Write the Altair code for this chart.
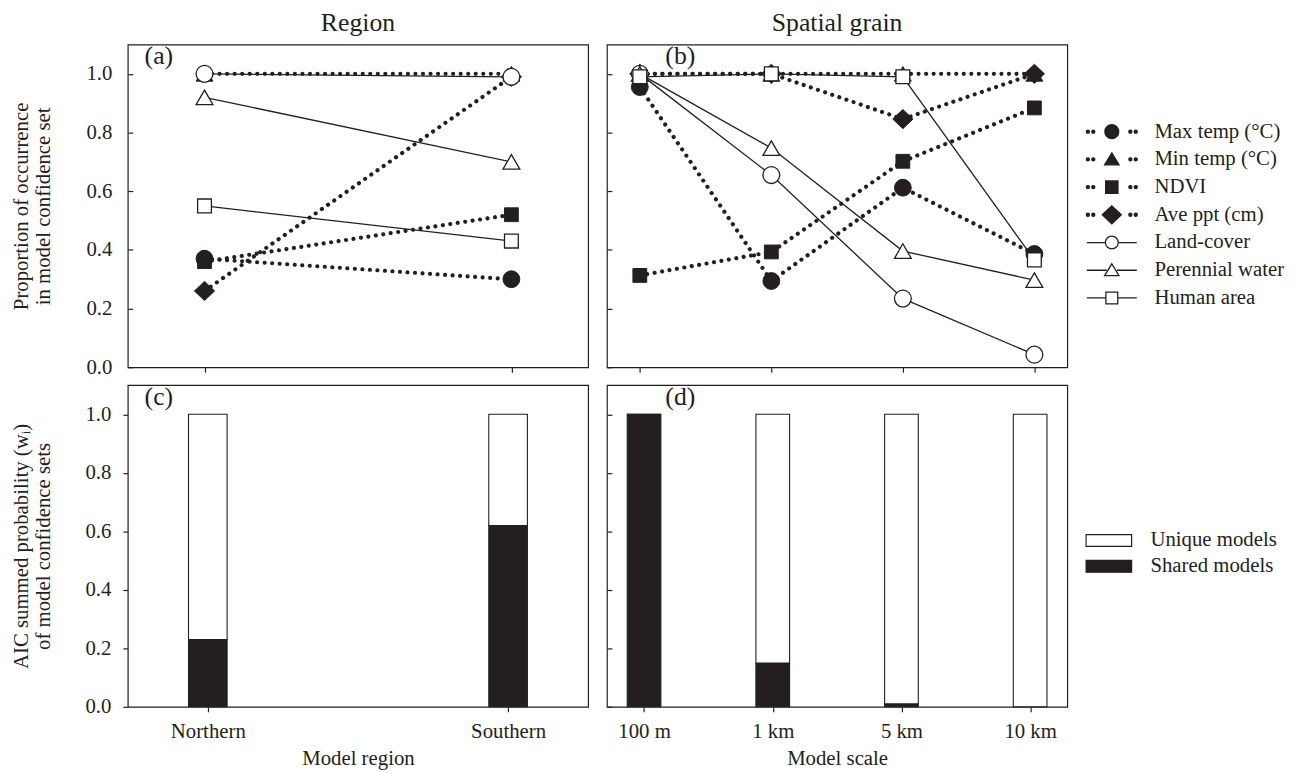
import json
import altair as alt
import pandas as pd

FONT = "Liberation Serif"
INK = "#231f20"

# ---------------- data ----------------
regions = ["Northern", "Southern"]
grains = ["100 m", "1 km", "5 km", "10 km"]
series_names = ["Max temp (°C)", "Min temp (°C)", "NDVI", "Ave ppt (cm)",
                "Land-cover", "Perennial water", "Human area"]
series_style = ["dotted", "dotted", "dotted", "dotted", "solid", "solid", "solid"]

max_temp_region = [0.37, 0.30]
min_temp_region = [1.00, 1.00]
ndvi_region = [0.36, 0.52]
ave_ppt_region = [0.26, 0.99]
land_cover_region = [1.00, 0.99]
perennial_water_region = [0.92, 0.70]
human_area_region = [0.55, 0.43]

max_temp_grain = [0.955, 0.294, 0.612, 0.386]
min_temp_grain = [1.00, 1.00, 1.00, 1.00]
ndvi_grain = [0.313, 0.393, 0.702, 0.884]
ave_ppt_grain = [1.00, 1.00, 0.846, 1.00]
land_cover_grain = [1.00, 0.655, 0.234, 0.043]
perennial_water_grain = [1.00, 0.747, 0.396, 0.297]
human_area_grain = [0.99, 1.00, 0.99, 0.366]

bar_types = ["Unique models", "Shared models"]
shared_region = [0.23, 0.62]
unique_region = [0.77, 0.38]
shared_grain = [1.00, 0.15, 0.01, 0.00]
unique_grain = [0.00, 0.85, 0.99, 1.00]

panel_letters = ["(a)", "(b)", "(c)", "(d)"]
y_ticks = [0.0, 0.2, 0.4, 0.6, 0.8, 1.0]

# ---------------- shapes ----------------
def circ(cx, r):
    return f"M{cx + r},0A{r},{r},0,1,1,{cx - r},0A{r},{r},0,1,1,{cx + r},0Z"

plot_shapes = [
    "circle",
    "triangle-up",
    "M-0.82,-0.82L0.82,-0.82L0.82,0.82L-0.82,0.82Z",
    "M-1.2,0L0,-1.14L1.2,0L0,1.14Z",
    "circle",
    "triangle-up",
    "M-0.82,-0.82L0.82,-0.82L0.82,0.82L-0.82,0.82Z",
]

dots = "".join(circ(c, 0.06) for c in (-0.93, -0.72, 0.72, 0.93))
legend_shapes = [
    dots + circ(0, 0.27),
    dots + "M0,-0.25L0.28,0.21L-0.28,0.21Z",
    dots + "M-0.24,-0.24L0.24,-0.24L0.24,0.24L-0.24,0.24Z",
    dots + "M-0.37,0L0,-0.35L0.37,0L0,0.35Z",
    "M-0.97,0L-0.25,0M0.25,0L0.97,0" + circ(0, 0.25),
    "M-0.97,0L-0.2,0M0.2,0L0.97,0M0,-0.25L0.28,0.21L-0.28,0.21Z",
    "M-0.97,0L-0.23,0M0.23,0L0.97,0M-0.23,-0.23L0.23,-0.23L0.23,0.23L-0.23,0.23Z",
]
legend_fills = [INK, INK, INK, INK, "white", "white", "white"]
legend_strokes = [INK] * 7


def line_table(cats, columns):
    rows = []
    for s, st, vals in zip(series_names, series_style, columns):
        for i, (c, v) in enumerate(zip(cats, vals)):
            rows.append({"i": i, "cat": c, "series": s, "style": st, "value": v})
    return pd.DataFrame(rows)


def bar_table(cats, shared, unique):
    rows = []
    for i, c in enumerate(cats):
        rows.append({"i": i, "cat": c, "type": "Shared models", "start": 0.0,
                     "end": shared[i]})
        rows.append({"i": i, "cat": c, "type": "Unique models", "start": shared[i],
                     "end": shared[i] + unique[i]})
    return pd.DataFrame(rows)


def x_enc(cats, bottom, title=None):
    n = len(cats)
    if bottom:
        axis = alt.Axis(values=list(range(n)), tickSize=5,
                        labelExpr=json.dumps(cats) + "[datum.value]",
                        labelPadding=9, labelFontSize=21, title=title,
                        titleFontSize=21, titlePadding=6)
    else:
        axis = alt.Axis(values=list(range(n)), tickSize=5, labels=False, title=None)
    return alt.X("i:Q", scale=alt.Scale(domain=[-0.25, n - 1 + 0.25], nice=False, zero=False),
                 axis=axis)


def y_axis(kind, title=None):
    if kind == "left_in":
        return alt.Axis(values=y_ticks, format=".1f", tickSize=5, offset=-5,
                        labelPadding=16, labelFontSize=21, title=title,
                        titleFontSize=21, titleLineHeight=22, titlePadding=33)
    if kind == "left_out":
        return alt.Axis(values=y_ticks, format=".1f", tickSize=5,
                        labelPadding=12, labelFontSize=21, title=title,
                        titleFontSize=21, titleLineHeight=22, titlePadding=32)
    return alt.Axis(values=y_ticks, tickSize=5, offset=-5, labels=False, title=None)


yscale = alt.Scale(domain=[0, 1.1], nice=False, zero=True)


def letter_layer(letter, dx):
    return alt.Chart(pd.DataFrame({"t": [letter]})).mark_text(
        align="left", baseline="alphabetic", fontSize=26, font=FONT, color=INK
    ).encode(x=alt.value(dx), y=alt.value(20), text="t:N")


def line_panel(cats, columns, letter, dx, title, ykind, ytitle, with_legend):
    df = line_table(cats, columns)
    x = x_enc(cats, False)
    y = alt.Y("value:Q", scale=yscale, axis=y_axis(ykind, ytitle))
    shape_scale = alt.Scale(domain=series_names, range=plot_shapes)

    dotted = alt.Chart(df).transform_filter("datum.style == 'dotted'").mark_line(
        strokeDash=[0.01, 7.6], strokeCap="round", strokeWidth=4.2, color=INK
    ).encode(x=x, y=y, detail="series:N")
    solid = alt.Chart(df).transform_filter("datum.style == 'solid'").mark_line(
        strokeWidth=1.3, color=INK
    ).encode(x=x, y=y, detail="series:N")
    filled_pts = alt.Chart(df).transform_filter("datum.style == 'dotted'").mark_point(
        filled=True, fill=INK, stroke=INK, strokeWidth=1, size=289, opacity=1
    ).encode(x=x, y=y, shape=alt.Shape("series:N", scale=shape_scale, legend=None))
    hollow_pts = alt.Chart(df).transform_filter("datum.style == 'solid'").mark_point(
        filled=True, fill="white", stroke=INK, strokeWidth=1.3, size=289, opacity=1
    ).encode(x=x, y=y, shape=alt.Shape("series:N", scale=shape_scale, legend=None))

    layers = [dotted, solid, filled_pts, hollow_pts, letter_layer(letter, dx)]
    if with_legend:
        leg = alt.Legend(orient="none", legendX=483, legendY=75, title=None,
                         symbolSize=2704, clipHeight=26, rowPadding=2,
                         labelOffset=16, labelFontSize=21, labelLimit=300,
                         symbolStrokeColor=INK, symbolStrokeWidth=1.3, padding=0)
        legend_layer = alt.Chart(pd.DataFrame({"series": series_names})).transform_filter(
            "false").mark_point(filled=True, strokeWidth=1.3, opacity=1).encode(
            shape=alt.Shape("series:N", scale=alt.Scale(domain=series_names, range=legend_shapes),
                            legend=leg),
            fill=alt.Fill("series:N", scale=alt.Scale(domain=series_names, range=legend_fills),
                          legend=leg),
            stroke=alt.Stroke("series:N",
                              scale=alt.Scale(domain=series_names, range=legend_strokes),
                              legend=leg),
        )
        layers.append(legend_layer)
    return alt.layer(*layers).resolve_scale(
        shape="independent", fill="independent", stroke="independent"
    ).properties(
        width=465, height=326,
        title=alt.TitleParams(title, fontSize=26, font=FONT, fontWeight="normal",
                              color=INK, offset=8),
    )


def bar_panel(cats, shared, unique, letter, dx, size, ykind, ytitle, xtitle, with_legend):
    df = bar_table(cats, shared, unique)
    x = x_enc(cats, True, xtitle)
    if with_legend:
        leg = alt.Legend(orient="none", legendX=483, legendY=145, title=None,
                         symbolType="M-1,-0.26L1,-0.26L1,0.26L-1,0.26Z",
                         symbolSize=2116, clipHeight=24, rowPadding=2,
                         labelOffset=18, labelFontSize=21, labelLimit=300,
                         symbolStrokeColor=INK, symbolStrokeWidth=1.2, padding=0)
    else:
        leg = None
    bars = alt.Chart(df).mark_bar(size=size, stroke=INK, strokeWidth=1.1, opacity=1).encode(
        x=x,
        y=alt.Y("start:Q", scale=yscale, axis=y_axis(ykind, ytitle)),
        y2="end:Q",
        fill=alt.Fill("type:N", scale=alt.Scale(domain=bar_types, range=["white", INK]),
                      legend=leg),
    )
    return alt.layer(bars, letter_layer(letter, dx)).properties(width=465, height=325)


a = line_panel(regions,
               [max_temp_region, min_temp_region, ndvi_region, ave_ppt_region,
                land_cover_region, perennial_water_region, human_area_region],
               panel_letters[0], 17, "Region", "left_in",
               ["Proportion of occurrence", "in model confidence set"], False)
b = line_panel(grains,
               [max_temp_grain, min_temp_grain, ndvi_grain, ave_ppt_grain,
                land_cover_grain, perennial_water_grain, human_area_grain],
               panel_letters[1], 59, "Spatial grain", "right_in", None, True)
c = bar_panel(regions, shared_region, unique_region, panel_letters[2], 17, 39,
              "left_out", ["AIC summed probability (wᵢ)", "of model confidence sets"],
              "Model region", False)
d = bar_panel(grains, shared_grain, unique_grain, panel_letters[3], 59, 34,
              "right_in", None, "Model scale", True)

chart = alt.concat(a, b, c, d, columns=2, spacing={"row": 5, "column": 16}).resolve_scale(
    fill="independent", shape="independent", stroke="independent"
).configure(
    font=FONT, padding={"left": 2, "top": -3, "right": 5, "bottom": 5}
).configure_view(
    stroke=INK, strokeWidth=1.2
).configure_axis(
    labelFont=FONT, titleFont=FONT, labelColor=INK, titleColor=INK, tickColor=INK,
    tickWidth=1.2, domain=False, grid=False, titleFontWeight="normal"
).configure_legend(
    labelFont=FONT, labelColor=INK
).configure_title(
    font=FONT, color=INK, fontWeight="normal"
)

chart.save("out.html", embed_options={"renderer": "svg", "actions": False})
